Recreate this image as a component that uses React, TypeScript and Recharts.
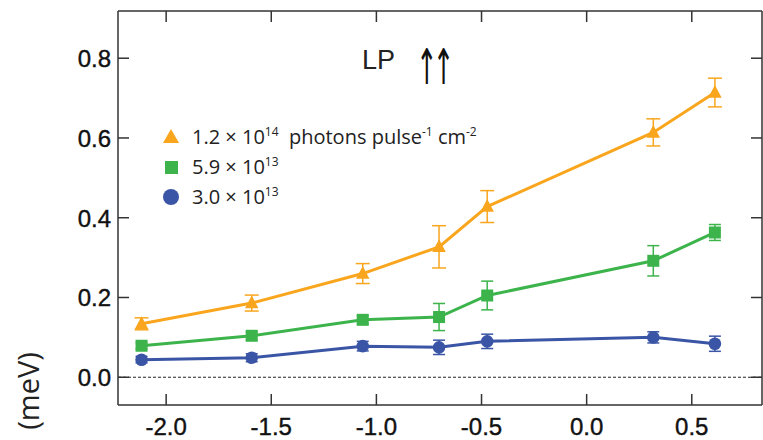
import { ComposedChart, Line, XAxis, YAxis, ReferenceLine, ErrorBar } from 'recharts';

// field position (x) shared by all three fluences
const xValues = [-2.117, -1.593, -1.065, -0.702, -0.473, 0.317, 0.61];

const highFluence = [0.134, 0.186, 0.26, 0.327, 0.428, 0.614, 0.714];
const highErr = [0.015, 0.02, 0.025, 0.053, 0.04, 0.034, 0.036];

const midFluence = [0.079, 0.104, 0.144, 0.151, 0.205, 0.292, 0.363];
const midErr = [0.008, 0.01, 0.01, 0.034, 0.036, 0.038, 0.02];

const lowFluence = [0.044, 0.049, 0.078, 0.075, 0.09, 0.1, 0.084];
const lowErr = [0.008, 0.01, 0.012, 0.018, 0.018, 0.014, 0.019];

const xTicks = [-2, -1.5, -1, -0.5, 0, 0.5];
const yTicks = [0, 0.2, 0.4, 0.6, 0.8];

const ORANGE = '#f9a61e';
const GREEN = '#3cb44b';
const BLUE = '#3a55a5';
const AXIS = '#333333';
const LABEL = '#111111';
const TICK_LEN = 11;

const data = xValues.map((x, i) => ({
  x,
  high: highFluence[i],
  highErr: highErr[i],
  mid: midFluence[i],
  midErr: midErr[i],
  low: lowFluence[i],
  lowErr: lowErr[i],
}));

const labelFont = '"Liberation Sans", Arial, sans-serif';

const BottomTick = ({ x, y, payload }: any) => (
  <g>
    <line x1={x} y1={y} x2={x} y2={y - TICK_LEN} stroke={AXIS} strokeWidth={1.5} />
    <text x={x} y={y + 30} textAnchor="middle" fontSize={24} fill={LABEL} stroke={LABEL} strokeWidth={0.4} fontFamily={labelFont}>
      {Number(payload.value).toFixed(1)}
    </text>
  </g>
);

const TopTick = ({ x, y }: any) => (
  <line x1={x} y1={y} x2={x} y2={y + TICK_LEN} stroke={AXIS} strokeWidth={1.5} />
);

const LeftTick = ({ x, y, payload }: any) => (
  <g>
    <line x1={x} y1={y} x2={x + TICK_LEN} y2={y} stroke={AXIS} strokeWidth={1.5} />
    <text x={x - 7} y={y + 9} textAnchor="end" fontSize={24} fill={LABEL} stroke={LABEL} strokeWidth={0.4} fontFamily={labelFont}>
      {Number(payload.value).toFixed(1)}
    </text>
  </g>
);

const RightTick = ({ x, y }: any) => (
  <line x1={x} y1={y} x2={x - TICK_LEN} y2={y} stroke={AXIS} strokeWidth={1.5} />
);

const TriangleDot = ({ cx, cy }: any) => {
  if (cx == null || cy == null) return null;
  const s = 7.5;
  return (
    <polygon
      points={`${cx},${cy - s} ${cx + s * 0.9},${cy + s * 0.7} ${cx - s * 0.9},${cy + s * 0.7}`}
      fill={ORANGE}
    />
  );
};

const SquareDot = ({ cx, cy }: any) => {
  if (cx == null || cy == null) return null;
  return <rect x={cx - 6} y={cy - 6} width={12} height={12} fill={GREEN} />;
};

const CircleDot = ({ cx, cy }: any) => {
  if (cx == null || cy == null) return null;
  return <circle cx={cx} cy={cy} r={6.3} fill={BLUE} />;
};

const legendFont = '"Open Sans", "Noto Sans", sans-serif';
const sup = { fontSize: 12, verticalAlign: 'super', lineHeight: 0 } as const;

export default function App() {
  return (
    <div style={{ position: 'absolute', left: 0, top: 0, width: 763, height: 440, background: '#fff' }}>
      <ComposedChart width={763} height={440} data={data} margin={{ top: 10, right: 0, bottom: 0, left: 0 }}>
        <XAxis
          dataKey="x"
          type="number"
          domain={[-2.229, 0.834]}
          ticks={xTicks}
          interval={0}
          allowDataOverflow
          height={35}
          tickLine={false}
          tickSize={0}
          tickMargin={0}
          axisLine={{ stroke: AXIS, strokeWidth: 1.5 }}
          tick={BottomTick}
        />
        <XAxis
          xAxisId="top"
          orientation="top"
          dataKey="x"
          type="number"
          domain={[-2.229, 0.834]}
          ticks={xTicks}
          interval={0}
          allowDataOverflow
          height={1}
          tickLine={false}
          tickSize={0}
          tickMargin={0}
          axisLine={{ stroke: AXIS, strokeWidth: 1.5 }}
          tick={TopTick}
        />
        <YAxis
          type="number"
          domain={[-0.0696, 0.9184]}
          ticks={yTicks}
          interval={0}
          allowDataOverflow
          width={118}
          tickLine={false}
          tickSize={0}
          tickMargin={0}
          axisLine={{ stroke: AXIS, strokeWidth: 1.5 }}
          tick={LeftTick}
        />
        <YAxis
          yAxisId="right"
          orientation="right"
          type="number"
          domain={[-0.0696, 0.9184]}
          ticks={yTicks}
          interval={0}
          allowDataOverflow
          width={1}
          tickLine={false}
          tickSize={0}
          tickMargin={0}
          axisLine={{ stroke: AXIS, strokeWidth: 1.5 }}
          tick={RightTick}
        />
        <ReferenceLine y={0} stroke="#222" strokeWidth={1} strokeDasharray="3 2" />
        <Line
          dataKey="low"
          stroke={BLUE}
          strokeWidth={3}
          dot={CircleDot}
          activeDot={false}
          isAnimationActive={false}
        >
          <ErrorBar dataKey="lowErr" direction="y" width={6} stroke={BLUE} strokeWidth={1.5} />
        </Line>
        <Line
          dataKey="mid"
          stroke={GREEN}
          strokeWidth={3}
          dot={SquareDot}
          activeDot={false}
          isAnimationActive={false}
        >
          <ErrorBar dataKey="midErr" direction="y" width={6} stroke={GREEN} strokeWidth={1.5} />
        </Line>
        <Line
          dataKey="high"
          stroke={ORANGE}
          strokeWidth={3}
          dot={TriangleDot}
          activeDot={false}
          isAnimationActive={false}
        >
          <ErrorBar dataKey="highErr" direction="y" width={7} stroke={ORANGE} strokeWidth={1.5} />
        </Line>
      </ComposedChart>

      {/* y axis label, partly cut at the bottom edge */}
      <div
        style={{
          position: 'absolute',
          left: 27,
          top: 391,
          transform: 'translate(-50%, -50%) rotate(-90deg)',
          fontFamily: legendFont,
          fontSize: 29,
          color: '#222',
          whiteSpace: 'nowrap',
          lineHeight: 1,
        }}
      >
        (meV)
      </div>

      {/* panel title */}
      <div
        style={{
          position: 'absolute',
          left: 362,
          top: 47,
          fontFamily: labelFont,
          fontSize: 27,
          color: '#222',
          whiteSpace: 'nowrap',
          lineHeight: 1,
        }}
      >
        LP
      </div>
      <div
        style={{
          position: 'absolute',
          left: 416,
          top: 42,
          fontFamily: '"DejaVu Sans", sans-serif',
          fontSize: 34,
          color: '#111',
          whiteSpace: 'nowrap',
          lineHeight: 1,
          letterSpacing: -6,
          transform: 'scale(0.75, 1.45)',
          transformOrigin: 'left top',
        }}
      >
        ↑↑
      </div>

      {/* legend */}
      <div style={{ position: 'absolute', left: 160, top: 122, fontFamily: legendFont, fontSize: 20, color: '#222', lineHeight: '30px' }}>
        <div style={{ display: 'flex', alignItems: 'center', height: 30 }}>
          <svg width={22} height={30}>
            <polygon points="11,7 19,21 3,21" fill={ORANGE} />
          </svg>
          <span style={{ marginLeft: 10, whiteSpace: 'nowrap' }}>
            1.2 × 10<span style={sup}>14</span>&nbsp; photons pulse<span style={sup}>-1</span> cm<span style={sup}>-2</span>
          </span>
        </div>
        <div style={{ display: 'flex', alignItems: 'center', height: 30 }}>
          <svg width={22} height={30}>
            <rect x={5} y={9} width={13} height={13} fill={GREEN} />
          </svg>
          <span style={{ marginLeft: 10, whiteSpace: 'nowrap' }}>
            5.9 × 10<span style={sup}>13</span>
          </span>
        </div>
        <div style={{ display: 'flex', alignItems: 'center', height: 30 }}>
          <svg width={22} height={30}>
            <circle cx={11} cy={15} r={8} fill={BLUE} />
          </svg>
          <span style={{ marginLeft: 10, whiteSpace: 'nowrap' }}>
            3.0 × 10<span style={sup}>13</span>
          </span>
        </div>
      </div>
    </div>
  );
}
